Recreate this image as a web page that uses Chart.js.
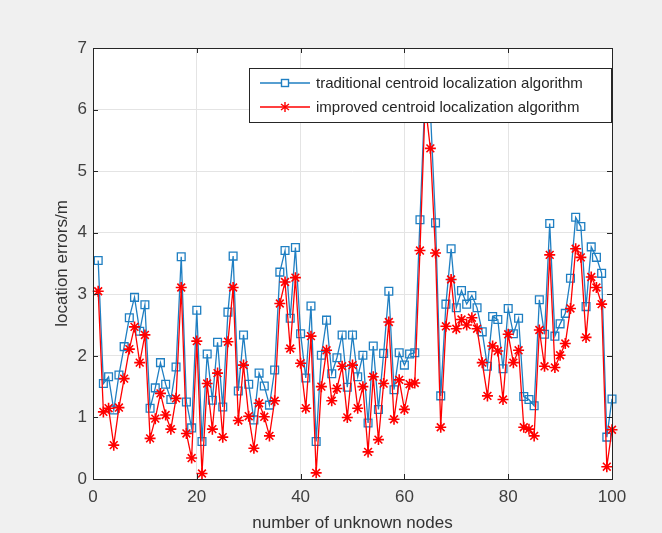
<!DOCTYPE html>
<html>
<head>
<meta charset="utf-8">
<script src="https://cdn.jsdelivr.net/npm/chart.js@4.4.1/dist/chart.umd.min.js"></script>
<style>
  html, body { margin: 0; padding: 0; background: #f0f0f0; }
  #wrap { width: 662px; height: 533px; position: relative; }
</style>
</head>
<body>
<div id="wrap"><canvas id="chart"></canvas></div>
<script>
////// data

const nodeIds = Array.from({ length: 100 }, (_, i) => i + 1);

const traditional = [
    3.55, 1.55, 1.66, 1.12, 1.69, 2.15, 2.62, 2.95, 2.40, 2.83,
    1.15, 1.48, 1.89, 1.54, 1.29, 1.82, 3.61, 1.25, 0.83, 2.74,
    0.61, 2.03, 1.28, 2.22, 1.17, 2.71, 3.62, 1.43, 2.34, 1.54,
    0.96, 1.72, 1.51, 1.20, 1.77, 3.36, 3.71, 2.61, 3.76, 2.36,
    1.64, 2.81, 0.61, 2.01, 2.58, 1.71, 1.97, 2.34, 1.49, 2.34,
    1.66, 2.01, 0.91, 2.16, 1.13, 2.04, 3.05, 1.45, 2.05, 1.85,
    2.03, 2.05, 4.21, 6.30, 6.00, 4.16, 1.35, 2.84, 3.74, 2.78,
    3.06, 2.84, 2.98, 2.78, 2.39, 1.83, 2.64, 2.59, 1.79, 2.77,
    2.36, 2.61, 1.34, 1.29, 1.19, 2.91, 2.35, 4.15, 2.32, 2.52,
    2.69, 3.26, 4.25, 4.10, 2.80, 3.77, 3.60, 3.34, 0.68, 1.30
];

const improved = [
    3.05, 1.09, 1.15, 0.55, 1.16, 1.63, 2.11, 2.47, 1.89, 2.34,
    0.66, 0.98, 1.39, 1.04, 0.81, 1.31, 3.11, 0.74, 0.34, 2.24,
    0.09, 1.55, 0.81, 1.72, 0.68, 2.23, 3.11, 0.95, 1.85, 1.02,
    0.50, 1.23, 1.01, 0.70, 1.27, 2.85, 3.20, 2.12, 3.27, 1.88,
    1.15, 2.32, 0.10, 1.50, 2.09, 1.27, 1.47, 1.83, 1.00, 1.85,
    1.15, 1.50, 0.44, 1.66, 0.64, 1.55, 2.55, 0.97, 1.61, 1.13,
    1.54, 1.56, 3.71, 6.10, 5.37, 3.67, 0.84, 2.48, 3.24, 2.44,
    2.59, 2.50, 2.62, 2.44, 1.89, 1.35, 2.16, 2.08, 1.29, 2.35,
    1.89, 2.09, 0.84, 0.81, 0.70, 2.42, 1.83, 3.64, 1.81, 2.01,
    2.20, 2.77, 3.74, 3.60, 2.30, 3.28, 3.11, 2.84, 0.20, 0.80
];

const xTicks = [0, 20, 40, 60, 80, 100];
const yTicks = [0, 1, 2, 3, 4, 5, 6, 7];

const seriesNames = [
    'traditional centroid localization algorithm',
    'improved centroid localization algorithm'
];

const BLUE = '#1f7fc2';
const RED = '#ff0000';
const AXIS = '#262626';

Chart.defaults.font.family = '"Liberation Sans", Arial, sans-serif';

// white plot area, full box with inward ticks, legend inside the axes
const matlabAxes = {
    id: 'matlabAxes',
    beforeDatasetsDraw(chart) {
        const a = chart.chartArea;
        const ctx = chart.ctx;
        ctx.save();
        ctx.globalCompositeOperation = 'destination-over';
        ctx.fillStyle = '#ffffff';
        ctx.fillRect(a.left, a.top, a.right - a.left, a.bottom - a.top);
        ctx.restore();
    },
    afterDatasetsDraw(chart) {
        const a = chart.chartArea;
        const ctx = chart.ctx;
        const xs = chart.scales.x, ys = chart.scales.y;
        ctx.save();
        ctx.strokeStyle = AXIS;
        ctx.lineWidth = 1;
        ctx.strokeRect(a.left + 0.5, a.top + 0.5, a.right - a.left, a.bottom - a.top);
        ctx.beginPath();
        xTicks.forEach(v => {
            const px = Math.round(xs.getPixelForValue(v)) + 0.5;
            ctx.moveTo(px, a.bottom); ctx.lineTo(px, a.bottom - 5);
            ctx.moveTo(px, a.top); ctx.lineTo(px, a.top + 5);
        });
        yTicks.forEach(v => {
            const py = Math.round(ys.getPixelForValue(v)) + 0.5;
            ctx.moveTo(a.left, py); ctx.lineTo(a.left + 5, py);
            ctx.moveTo(a.right, py); ctx.lineTo(a.right - 5, py);
        });
        ctx.stroke();

        // legend
        const lx = 249, ly = 68, lw = 362, lh = 54;
        ctx.fillStyle = '#ffffff';
        ctx.fillRect(lx, ly, lw, lh);
        ctx.strokeStyle = AXIS;
        ctx.strokeRect(lx + 0.5, ly + 0.5, lw, lh);

        const rows = [
            { y: 83, color: BLUE, style: 'rect' },
            { y: 107, color: RED, style: 'star' }
        ];
        rows.forEach((r, i) => {
            ctx.strokeStyle = r.color;
            ctx.lineWidth = 1.4;
            ctx.beginPath();
            ctx.moveTo(260, r.y);
            ctx.lineTo(310, r.y);
            ctx.stroke();
            if (r.style === 'rect') {
                ctx.clearRect(282, r.y - 3, 6, 6);
                ctx.fillStyle = '#ffffff';
                ctx.fillRect(281, r.y - 4, 8, 8);
                ctx.strokeRect(281.5, r.y - 3.5, 7, 7);
            } else {
                ctx.beginPath();
                ctx.moveTo(285, r.y - 5); ctx.lineTo(285, r.y + 5);
                ctx.moveTo(281, r.y - 3); ctx.lineTo(289, r.y + 3);
                ctx.moveTo(281, r.y + 3); ctx.lineTo(289, r.y - 3);
                ctx.stroke();
            }
            ctx.fillStyle = AXIS;
            ctx.font = '15px "Liberation Sans", Arial, sans-serif';
            ctx.textBaseline = 'middle';
            ctx.textAlign = 'left';
            ctx.fillText(seriesNames[i], 316, r.y + 1);
        });
        ctx.restore();
    }
};

new Chart(document.getElementById('chart'), {
    type: 'line',
    data: {
        labels: nodeIds,
        datasets: [{
            label: seriesNames[0],
            data: traditional,
            borderColor: BLUE,
            backgroundColor: 'rgba(0,0,0,0)',
            borderWidth: 1.3,
            pointStyle: 'rect',
            pointRadius: 5.5,
            pointBorderWidth: 1.3,
            pointBorderColor: BLUE,
            tension: 0,
            order: 1,
            clip: false
        }, {
            label: seriesNames[1],
            data: improved,
            borderColor: RED,
            backgroundColor: 'rgba(0,0,0,0)',
            borderWidth: 1.3,
            pointStyle: 'star',
            pointRadius: 5.5,
            pointBorderWidth: 1.6,
            pointBorderColor: RED,
            tension: 0,
            order: 0,
            clip: false
        }]
    },
    options: {
        responsive: true,
        maintainAspectRatio: false,
        animation: false,
        layout: { padding: { top: 48, right: 50, bottom: 0, left: 0 } },
        plugins: {
            legend: { display: false },
            tooltip: { enabled: false }
        },
        scales: {
            x: {
                type: 'linear',
                min: 0,
                max: 100,
                afterBuildTicks: s => { s.ticks = xTicks.map(v => ({ value: v })); },
                afterFit: s => { s.height = 54; },
                grid: { color: '#e4e4e4', drawTicks: false },
                border: { display: false },
                ticks: { padding: 8, color: '#404040', font: { size: 17 } },
                title: {
                    display: true,
                    text: 'number of unknown nodes',
                    color: '#333333',
                    font: { size: 17 },
                    padding: { top: 0, bottom: -1 }
                }
            },
            y: {
                min: 0,
                max: 7,
                afterBuildTicks: s => { s.ticks = yTicks.map(v => ({ value: v })); },
                afterFit: s => { s.width = 93; },
                grid: { color: '#e4e4e4', drawTicks: false },
                border: { display: false },
                ticks: { padding: 6, color: '#404040', font: { size: 17 } },
                title: {
                    display: true,
                    text: 'location errors/m',
                    color: '#333333',
                    font: { size: 17 },
                    padding: { top: 52, bottom: 0 }
                }
            }
        }
    },
    plugins: [matlabAxes]
});
</script>
</body>
</html>
